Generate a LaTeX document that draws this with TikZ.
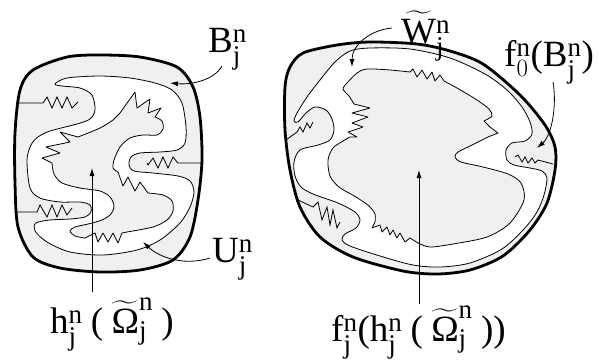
\documentclass[tikz,border=0pt]{standalone}
\usepackage{amsmath}
\usepackage{fontspec}
\setmainfont{Liberation Serif}
\setmathrm{Liberation Serif}
\DeclareMathSizes{37}{37}{27}{20}
\usetikzlibrary{arrows.meta}
\definecolor{fillgray}{RGB}{240,240,240}
\newcommand\labfont{\fontsize{37}{44}\selectfont}
\newcommand\rmm[1]{\mathrm{#1}}
\newcommand\gp{\mskip6mu}
\newcommand\lp{\hbox{(}}
\newcommand\rp{\hbox{)}}
\begin{document}
\begin{tikzpicture}[x=1pt,y=-1pt,
  thinl/.style={line width=0.8pt, line join=round},
  outline/.style={line width=2.8pt, fill=fillgray},
  crack/.style={line width=0.8pt, line join=miter},
  arr/.style={line width=0.8pt, -{Latex[length=8pt,width=5pt]}},
  lab/.style={inner sep=0pt, font=\labfont, anchor=base west}]
\useasboundingbox (0,0) rectangle (598,360);

% ---------------- left shape ----------------
\filldraw[outline] plot[smooth cycle] coordinates {(33,70) (67,57) (100,55) (140,57) (177,67) (193,87) (200,117) (202,160) (198,200) (190,237) (173,260) (140,270) (100,272) (60,268) (33,257) (18,227) (15,183) (15,133) (20,90)};

\filldraw[fill=white, thinl] plot[smooth cycle] coordinates {(55,84) (67,78) (100,76) (130,78) (155,83) (172,90) (182,103) (186,127) (185,143) (177,150) (160,152) (140,153) (131,157) (129,165) (134,171) (153,173) (178,176) (190,181) (194,192) (190,207) (180,223) (160,240) (137,250) (103,255) (70,252) (47,242) (35,231) (36,223) (50,220) (70,219) (85,217) (91,212) (90,205) (80,202) (60,202) (40,198) (30,188) (27,160) (31,145) (38,137) (50,131) (77,124) (90,119) (95,110) (92,95) (80,88) (62,86)};

\filldraw[fill=fillgray, thinl]
  plot[smooth] coordinates {(78,137) (100,128) (113,120)}
  -- (120,113) -- (135,92) -- (137,108) -- (150,99) -- (148,113) -- (161,108) -- (155,117)
  -- plot[smooth] coordinates {(155,117) (162,121) (163,129) (157,135) (143,135) (130,138) (120,147) (114,160) (113,168) (118,172)}
  -- (123,186) -- (128,177) -- (135,191) -- (140,182) -- (148,193)
  -- plot[smooth] coordinates {(148,193) (163,195) (172,201) (173,211) (167,220) (153,227) (127,232)}
  -- (122,233) -- (118,243) -- (113,233) -- (108,242) -- (103,233) -- (98,242) -- (95,233) -- (85,238)
  -- plot[smooth] coordinates {(85,238) (75,236) (70,231) (75,227) (88,224) (102,220) (111,214) (114,206) (110,197) (100,191) (80,188) (62,183) (54,174) (52,163)}
  -- (42,158) -- (60,153) -- (46,147) -- (70,142) -- (60,132) -- cycle;

\draw[crack] (16,103) -- (43,103) -- (47,97) -- (52,108) -- (57,97) -- (62,108) -- (67,97) -- (72,108) -- (78,102);
\draw[crack] (201,163) -- (178,163) -- (173,157) -- (168,168) -- (163,157) -- (158,168) -- (153,158) -- (148,165) -- (147,163);
\draw[crack] (16,212) -- (37,212) -- (40,205) -- (47,217) -- (52,205) -- (57,217) -- (62,205) -- (67,215) -- (72,208);

% ---------------- right shape ----------------
\filldraw[outline] plot[smooth cycle] coordinates {(290,67) (303,53) (337,45) (370,42) (417,44) (450,51) (483,64) (520,95) (545,125) (555,147) (555,170) (547,203) (530,230) (503,256) (470,270) (437,274) (403,271) (353,257) (320,237) (300,207) (290,170) (285,130) (285,87)};

\filldraw[fill=white, thinl] plot[smooth cycle] coordinates {(294,121) (297,113) (307,97) (320,80) (335,62) (350,51) (370,48) (410,49) (450,58) (485,74) (507,90) (522,107) (530,122) (532,134) (525,141) (512,143) (506,150) (507,160) (514,165) (530,168) (542,171) (547,178) (544,195) (537,212) (524,229) (502,249) (470,263) (440,267) (413,265) (380,256) (350,246) (342,240) (345,234) (356,228) (360,220) (355,212) (338,203) (313,194) (301,187) (295,176) (294,162) (300,150) (318,145) (330,140) (334,130) (332,119) (326,110) (315,107) (306,113) (298,122)};

\filldraw[fill=fillgray, thinl]
  plot[smooth] coordinates {(347,83) (357,73) (367,69) (390,70) (410,72)}
  -- (413,69) -- (417,77) -- (422,70) -- (427,79) -- (432,72) -- (435,81) -- (440,75) -- (444,81)
  -- plot[smooth] coordinates {(444,81) (457,88) (477,100) (489,109) (492,116) (484,121)}
  -- (490,127) -- (498,133) -- (488,137)
  -- plot[smooth] coordinates {(488,137) (470,146) (458,152) (455,157) (461,162) (483,167) (508,174) (521,183) (524,200) (510,223) (487,237) (453,244) (430,247) (418,243)}
  -- (410,238) -- (405,242) -- (400,233) -- (397,238) -- (393,230) -- (390,235) -- (387,227) -- (382,232) -- (380,225) -- (372,228) -- (375,222)
  -- plot[smooth] coordinates {(375,222) (375,214) (369,206) (356,197) (339,187) (330,176) (328,160) (333,148) (343,141) (350,137)}
  -- (357,137) -- (348,132) -- (363,127) -- (352,123) -- (368,117) -- (352,113) -- (370,108) -- (354,104)
  -- plot[smooth] coordinates {(354,104) (349,96) (343,89) (347,83)} -- cycle;

\draw[crack] (286,140) -- (297,132) -- (300,127) -- (303,132) -- (307,123) -- (310,128) -- (313,122);
\draw[crack] (296,199) -- (313,207) -- (318,202) -- (322,220) -- (327,207) -- (330,225) -- (333,210) -- (337,228) -- (340,222);
\draw[crack] (515,157) -- (518,155) -- (522,162) -- (525,157) -- (528,163) -- (532,158) -- (535,163) -- (538,160) -- (553,164);

% ---------------- labels ----------------
\node[lab] (B) at (208,52) {$\rmm{B}^{\rmm{n}}_{\rmm{j}}$};
\node[lab] (U) at (212,262) {$\rmm{U}^{\rmm{n}}_{\rmm{j}}$};
\node[lab] (W) at (401,43) {$\widetilde{\rmm{W}}^{\rmm{n}}_{\rmm{j}}$};
\node[lab] (F0) at (504,66) {$\rmm{f}^{\rmm{n}}_{0}\lp\rmm{B}^{\rmm{n}}_{\rmm{j}}\rp$};
\node[lab] (H) at (50,333) {$\rmm{h}^{\rmm{n}}_{\rmm{j}}\gp\lp\gp\widetilde{\hbox{Ω}}^{\rmm{n}}_{\rmm{j}}\gp\rp$};
\node[lab] (F) at (331,341) {$\rmm{f}^{\rmm{n}}_{\rmm{j}}\lp\rmm{h}^{\rmm{n}}_{\rmm{j}}\gp\lp\gp\widetilde{\hbox{Ω}}^{\rmm{n}}_{\rmm{j}}\gp\rp\rp$};

% ---------------- arrows ----------------
\coordinate (Bs) at (222,66);  \coordinate (Bt) at (170,83);
\coordinate (Us) at (210,258); \coordinate (Ut) at (143,242);
\coordinate (Ws) at (392,28);  \coordinate (Wt) at (352,67);
\coordinate (Fs) at (553,82);  \coordinate (Ft) at (537,148);
\coordinate (Hs) at (92,292);  \coordinate (Ht) at (92,168);
\coordinate (Gs) at (419,304); \coordinate (Gt) at (419,170);

\draw[arr] (Bs) .. controls (214,80) and (192,85) .. (Bt);
\draw[arr] (Us) .. controls (185,266) and (160,258) .. (Ut);
\draw[arr] (Ws) .. controls (370,30) and (352,45) .. (Wt);
\draw[arr] (Fs) .. controls (557,105) and (552,135) .. (Ft);
\draw[arr] (Hs) -- (Ht);
\draw[arr] (Gs) -- (Gt);
\end{tikzpicture}
\end{document}
